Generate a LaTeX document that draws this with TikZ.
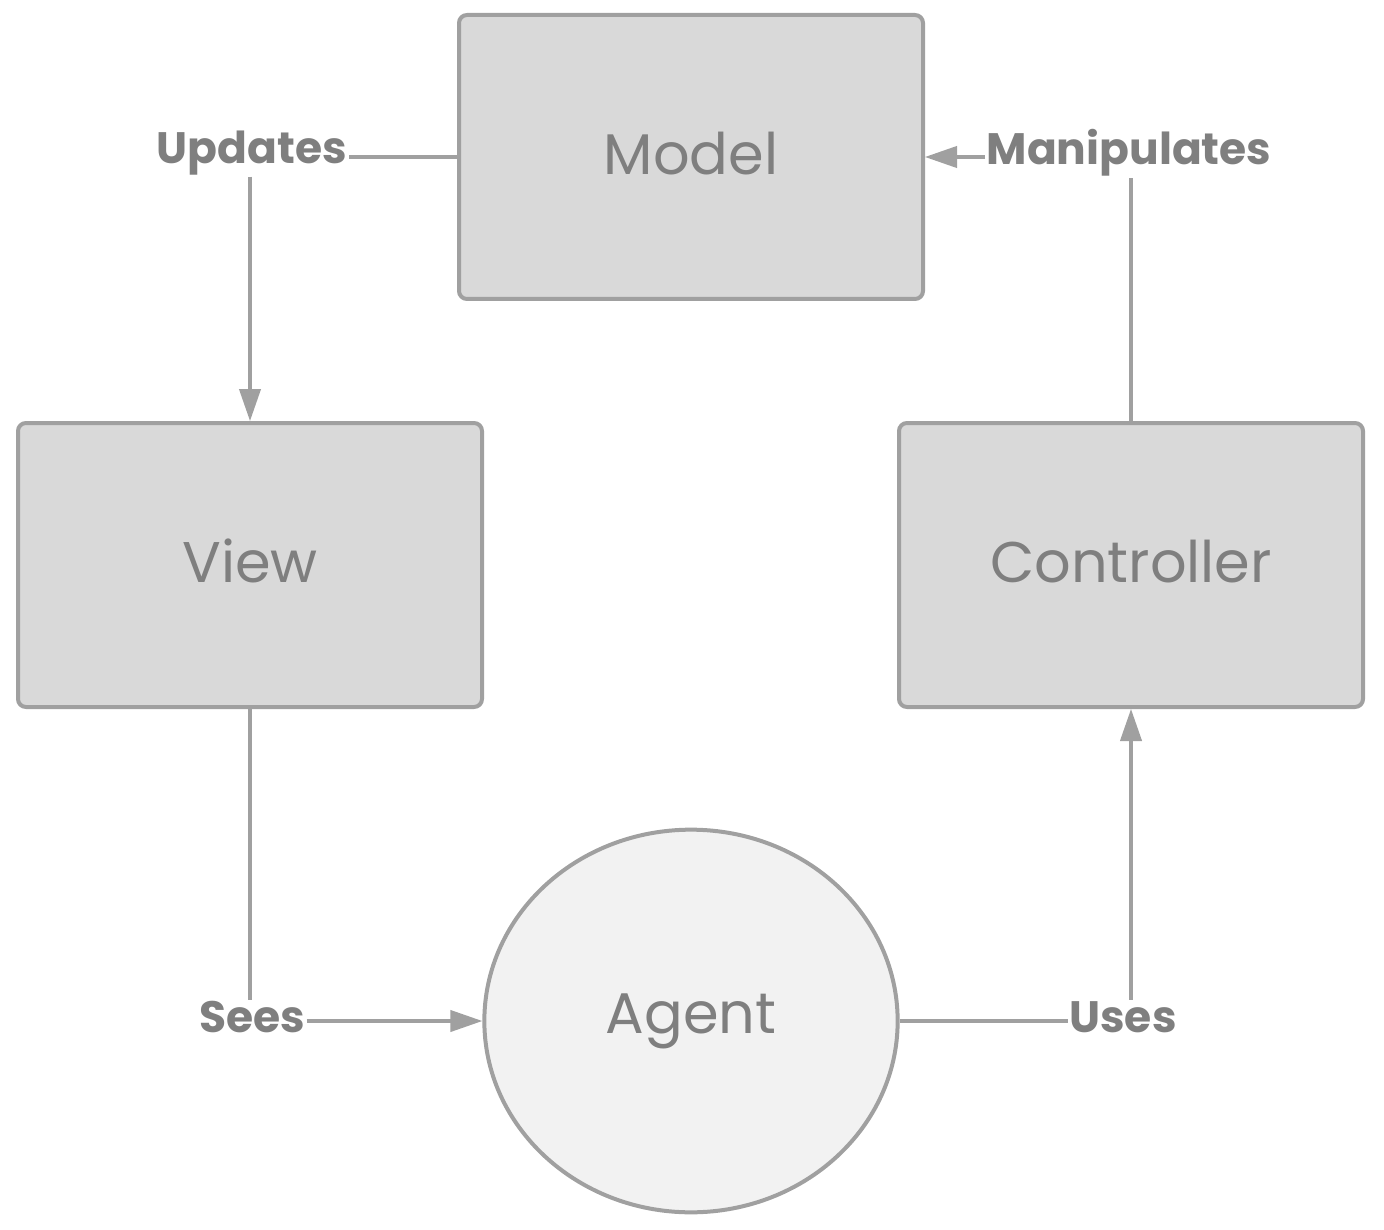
\documentclass[tikz,border=0pt]{standalone}
\usepackage{fontspec}
\setmainfont{Poppins}
\usetikzlibrary{arrows.meta,shapes.geometric}
\definecolor{boxfill}{HTML}{D9D9D9}
\definecolor{agentfill}{HTML}{F2F2F2}
\definecolor{edge}{HTML}{A0A0A0}
\definecolor{txt}{HTML}{7F7F7F}
\newcommand{\uplift}[1]{\raisebox{6pt}{#1}}
\tikzset{
  block/.style={draw=edge, line width=3pt, fill=boxfill, rounded corners=6pt,
    minimum width=348pt, minimum height=213pt, text=txt,
    font=\fontsize{43}{50}\selectfont},
  agentnode/.style={draw=edge, line width=3pt, fill=agentfill, ellipse,
    minimum width=310pt, minimum height=287pt, inner sep=0pt, text=txt,
    font=\fontsize{43}{50}\selectfont},
  lbl/.style={text=txt, inner sep=1pt, font=\fontsize{33}{38}\selectfont\bfseries},
  conn/.style={draw=edge, line width=2.3pt},
  arr/.style={conn, -{Triangle[length=24pt,width=16pt]}}
}
\begin{document}
\begin{tikzpicture}[x=0.75pt,y=-0.75pt]
\useasboundingbox (0,0) rectangle (1384,1230);
\node[block] (model) at (691,157) {\uplift{Model}};
\node[block] (view) at (250,565) {\uplift{View}};
\node[block] (ctrl) at (1131,565) {\uplift{Controller}};
\node[agentnode] (agent) at (691,1021) {Agent};
\node[lbl] (upd) at (252,153) {Updates};
\node[lbl] (man) at (1129,153) {Manipulates};
\node[lbl] (sees) at (252,1017) {Sees};
\node[lbl] (uses) at (1123,1017) {Uses};
% Model -> Updates -> View
\draw[conn] (model.west |- 0,157) -- (upd.east |- 0,157);
\draw[arr] (upd.south -| view.north) -- (view.north);
% Controller -> Manipulates -> Model
\draw[conn] (ctrl.north) -- (man.south -| ctrl.north);
\draw[arr] (man.west |- 0,157) -- (model.east |- 0,157);
% View -> Sees -> Agent
\draw[conn] (view.south) -- (sees.north -| view.south);
\draw[arr] (sees.east |- agent.west) -- (agent.west);
% Agent -> Uses -> Controller
\draw[conn] (agent.east) -- (uses.west |- agent.east);
\draw[arr] (uses.north -| ctrl.south) -- (ctrl.south);
\end{tikzpicture}
\end{document}
